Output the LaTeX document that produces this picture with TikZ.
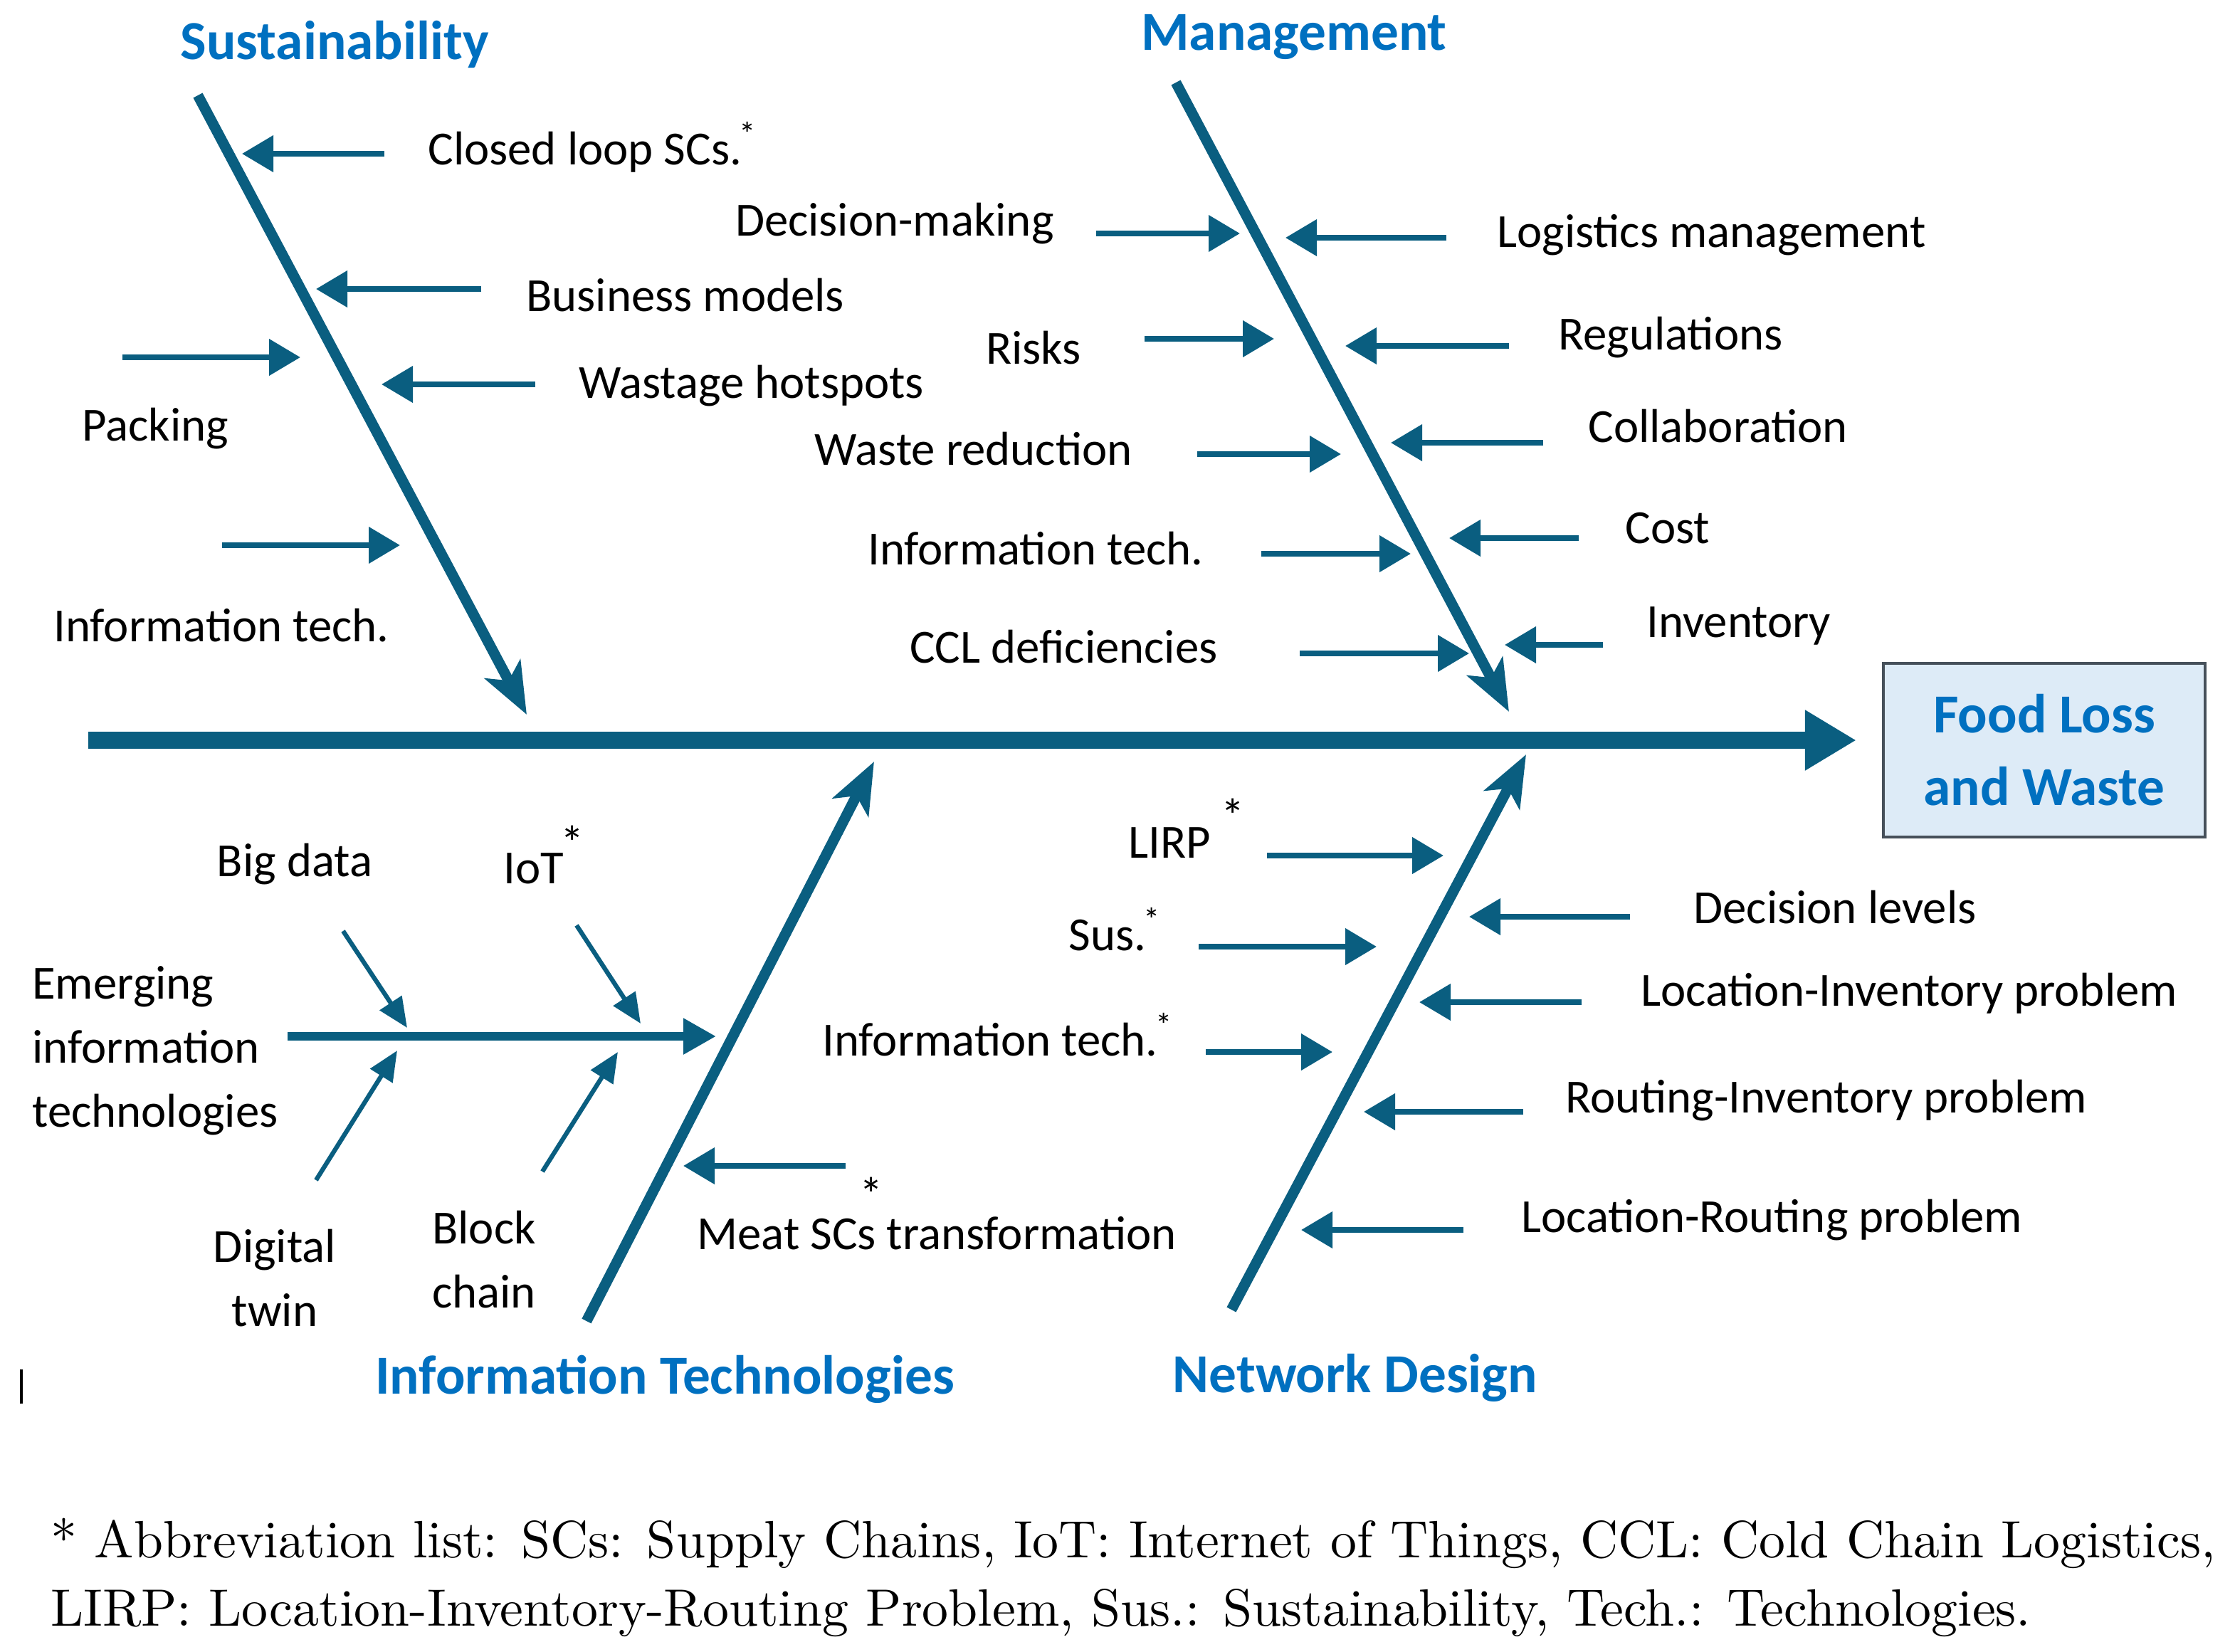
\documentclass[tikz,border=0pt]{standalone}
\usepackage{fontspec}
\setsansfont{Carlito}
\usetikzlibrary{arrows.meta}

\definecolor{bonecol}{RGB}{10,94,128}
\definecolor{headcol}{RGB}{0,112,192}
\definecolor{boxfill}{RGB}{221,235,247}
\definecolor{boxline}{RGB}{70,80,90}

\tikzset{
  spine/.style={line width=3.4pt, draw=bonecol, -{Triangle[length=0.36cm,width=0.40cm]}},
  bone/.style={line width=2.1pt, draw=bonecol, -{Stealth[length=0.36cm,width=0.28cm,inset=0.09cm]}},
  cause/.style={line width=1.1pt, draw=bonecol, -{Triangle[length=0.22cm,width=0.25cm]}},
  subbone/.style={line width=1.8pt, draw=bonecol, -{Triangle[length=0.23cm,width=0.24cm]}},
  twig/.style={line width=0.9pt, draw=bonecol, -{Triangle[length=0.21cm,width=0.18cm]}},
  heading/.style={font=\sffamily\bfseries\fontsize{11}{14.5}\selectfont, text=headcol, inner sep=0pt},
  lbl/.style={font=\sffamily\fontsize{9.5}{12.8}\selectfont, inner sep=0pt, text height=0.7em, text depth=0.2em},
  multi/.style={lbl, text height=, text depth=},
  star/.style={font=\sffamily\fontsize{9.5}{11}\selectfont, inner sep=0pt},
  foot/.style={anchor=base west, inner sep=0pt, font=\fontsize{10.5}{13.7}\selectfont},
}

\begin{document}
\begin{tikzpicture}
	\useasboundingbox (0,0) rectangle (15.70,-11.60);
	
	% spine and result box
	\node[heading, draw=boxline, fill=boxfill, line width=0.6pt, minimum width=2.26cm, minimum height=1.22cm, align=center] (flw) at (14.36,-5.27) {Food Loss\\and Waste};
	\coordinate (tail) at (0.62,-5.20);
	\draw[spine, shorten >=0.18cm] (tail) -- (tail -| flw.west);
	
	% bones
	\coordinate (s1) at (1.39,-0.67);
	\coordinate (s2) at (3.70,-5.02);
	\coordinate (m1) at (8.26,-0.58);
	\coordinate (m2) at (10.60,-5.00);
	\coordinate (i1) at (4.12,-9.28);
	\coordinate (i2) at (6.14,-5.35);
	\coordinate (n1) at (8.65,-9.20);
	\coordinate (n2) at (10.72,-5.30);
	
	\draw[bone] (s1) -- (s2);
	\draw[bone] (m1) -- (m2);
	\draw[bone] (i1) -- (i2);
	\draw[bone] (n1) -- (n2);
	
	\node[heading] (sust) at (2.35,-0.31) {Sustainability};
	\node[heading] (mgmt) at (9.09,-0.26) {Management};
	\node[heading] (itech) at (4.67,-9.69) {Information Technologies};
	\node[heading] (ndes) at (9.52,-9.68) {Network Design};
	
	% Sustainability
	\coordinate (closedT) at (2.70,-1.08);
	\coordinate (closedH) at (1.70,-1.08);
	\coordinate (busT) at (3.38,-2.03);
	\coordinate (busH) at (2.22,-2.03);
	\coordinate (wastT) at (3.76,-2.70);
	\coordinate (wastH) at (2.68,-2.70);
	\coordinate (packT) at (0.86,-2.51);
	\coordinate (packH) at (2.11,-2.51);
	\coordinate (sitT) at (1.56,-3.83);
	\coordinate (sitH) at (2.81,-3.83);
	
	\draw[cause] (closedT) -- (closedH);
	\draw[cause] (busT) -- (busH);
	\draw[cause] (wastT) -- (wastH);
	\draw[cause] (packT) -- (packH);
	\draw[cause] (sitT) -- (sitH);
	
	\node[lbl, anchor=west] (closed) at (3.00,-1.07) {Closed loop SCs.\kern-0.05em\textsuperscript{*}};
	\node[lbl, anchor=west] (bus) at (3.69,-2.10) {Business models};
	\node[lbl, anchor=west] (wast) at (4.06,-2.71) {Wastage hotspots};
	\node[lbl, anchor=west] (pack) at (0.57,-3.01) {Packing};
	\node[lbl, anchor=west] (sit) at (0.37,-4.42) {Information tech.};
	
	% Management
	\coordinate (decT) at (7.70,-1.64);
	\coordinate (decH) at (8.71,-1.64);
	\coordinate (logT) at (10.16,-1.67);
	\coordinate (logH) at (9.03,-1.67);
	\coordinate (riskT) at (8.04,-2.38);
	\coordinate (riskH) at (8.95,-2.38);
	\coordinate (regT) at (10.60,-2.43);
	\coordinate (regH) at (9.45,-2.43);
	\coordinate (wredT) at (8.41,-3.19);
	\coordinate (wredH) at (9.42,-3.19);
	\coordinate (collT) at (10.84,-3.11);
	\coordinate (collH) at (9.77,-3.11);
	\coordinate (mitT) at (8.86,-3.89);
	\coordinate (mitH) at (9.91,-3.89);
	\coordinate (costT) at (11.09,-3.78);
	\coordinate (costH) at (10.18,-3.78);
	\coordinate (cclT) at (9.13,-4.59);
	\coordinate (cclH) at (10.32,-4.59);
	\coordinate (invT) at (11.26,-4.53);
	\coordinate (invH) at (10.57,-4.53);
	
	\draw[cause] (decT) -- (decH);
	\draw[cause] (logT) -- (logH);
	\draw[cause] (riskT) -- (riskH);
	\draw[cause] (regT) -- (regH);
	\draw[cause] (wredT) -- (wredH);
	\draw[cause] (collT) -- (collH);
	\draw[cause] (mitT) -- (mitH);
	\draw[cause] (costT) -- (costH);
	\draw[cause] (cclT) -- (cclH);
	\draw[cause] (invT) -- (invH);
	
	\node[lbl, anchor=east] (dec) at (7.41,-1.57) {Decision-making};
	\node[lbl, anchor=west] (log) at (10.51,-1.65) {Logistics management};
	\node[lbl, anchor=east] (risk) at (7.60,-2.47) {Risks};
	\node[lbl, anchor=west] (reg) at (10.94,-2.37) {Regulations};
	\node[lbl, anchor=east] (wred) at (7.96,-3.18) {Waste reduction};
	\node[lbl, anchor=west] (coll) at (11.15,-3.02) {Collaboration};
	\node[lbl, anchor=east] (mit) at (8.46,-3.88) {Information tech.};
	\node[lbl, anchor=west] (cost) at (11.41,-3.73) {Cost};
	\node[lbl, anchor=east] (ccl) at (8.56,-4.57) {CCL deficiencies};
	\node[lbl, anchor=west] (inv) at (11.56,-4.39) {Inventory};
	
	% Information Technologies
	\coordinate (meatT) at (5.94,-8.19);
	\coordinate (meatH) at (4.80,-8.19);
	\coordinate (emT) at (2.02,-7.28);
	\coordinate (emH) at (5.03,-7.28);
	\coordinate (bigT) at (2.41,-6.54);
	\coordinate (bigH) at (2.86,-7.22);
	\coordinate (iotT) at (4.05,-6.50);
	\coordinate (iotH) at (4.50,-7.19);
	\coordinate (digT) at (2.22,-8.29);
	\coordinate (digH) at (2.79,-7.38);
	\coordinate (blkT) at (3.81,-8.23);
	\coordinate (blkH) at (4.34,-7.39);
	
	\draw[cause] (meatT) -- (meatH);
	\draw[subbone] (emT) -- (emH);
	\draw[twig] (bigT) -- (bigH);
	\draw[twig] (iotT) -- (iotH);
	\draw[twig] (digT) -- (digH);
	\draw[twig] (blkT) -- (blkH);
	
	\node[lbl, anchor=west] (meat) at (4.89,-8.69) {Meat SCs transformation};
	\node[star] (meatstar) at (6.12,-8.39) {*};
	\node[multi, anchor=west, align=left] (em) at (0.22,-7.38) {Emerging\\information\\technologies};
	\node[lbl] (big) at (2.07,-6.07) {Big data};
	\node[lbl] (iot) at (3.75,-6.12) {IoT};
	\node[star] (iotstar) at (4.02,-5.92) {*};
	\node[multi, align=center] (dig) at (1.93,-8.98) {Digital\\twin};
	\node[multi, align=center] (blk) at (3.40,-8.85) {Block\\chain};
	
	% Network Design
	\coordinate (lirpT) at (8.90,-6.01);
	\coordinate (lirpH) at (10.14,-6.01);
	\coordinate (dlevT) at (11.45,-6.44);
	\coordinate (dlevH) at (10.32,-6.44);
	\coordinate (susT) at (8.42,-6.65);
	\coordinate (susH) at (9.67,-6.65);
	\coordinate (linvT) at (11.11,-7.04);
	\coordinate (linvH) at (9.97,-7.04);
	\coordinate (nitT) at (8.47,-7.39);
	\coordinate (nitH) at (9.36,-7.39);
	\coordinate (rinvT) at (10.70,-7.81);
	\coordinate (rinvH) at (9.58,-7.81);
	\coordinate (lroutT) at (10.28,-8.64);
	\coordinate (lroutH) at (9.14,-8.64);
	
	\draw[cause] (lirpT) -- (lirpH);
	\draw[cause] (dlevT) -- (dlevH);
	\draw[cause] (susT) -- (susH);
	\draw[cause] (linvT) -- (linvH);
	\draw[cause] (nitT) -- (nitH);
	\draw[cause] (rinvT) -- (rinvH);
	\draw[cause] (lroutT) -- (lroutH);
	
	\node[lbl, anchor=west] (lirp) at (7.92,-5.94) {LIRP};
	\node[star] (lirpstar) at (8.66,-5.73) {*};
	\node[lbl, anchor=west] (dlev) at (11.89,-6.40) {Decision levels};
	\node[lbl, anchor=west] (sus) at (7.50,-6.59) {Sus.\kern-0.05em\textsuperscript{*}};
	\node[lbl, anchor=west] (linv) at (11.52,-6.98) {Location-Inventory problem};
	\node[lbl, anchor=west] (nit) at (5.77,-7.33) {Information tech.\kern-0.05em\textsuperscript{*}};
	\node[lbl, anchor=west] (rinv) at (10.99,-7.73) {Routing-Inventory problem};
	\node[lbl, anchor=west] (lrout) at (10.68,-8.57) {Location-Routing problem};
	
	% stray mark and footnote
	\draw[line width=0.5pt] (0.15,-9.62) -- (0.15,-9.86);
	\node[foot] (fn1) at (0.35,-10.94) {* Abbreviation list: SCs: Supply Chains, IoT: Internet of Things, CCL: Cold Chain Logistics,};
	\node[foot] (fn2) at (0.35,-11.42) {LIRP: Location-Inventory-Routing Problem, Sus.: Sustainability, Tech.: Technologies.};
\end{tikzpicture}
\end{document}
